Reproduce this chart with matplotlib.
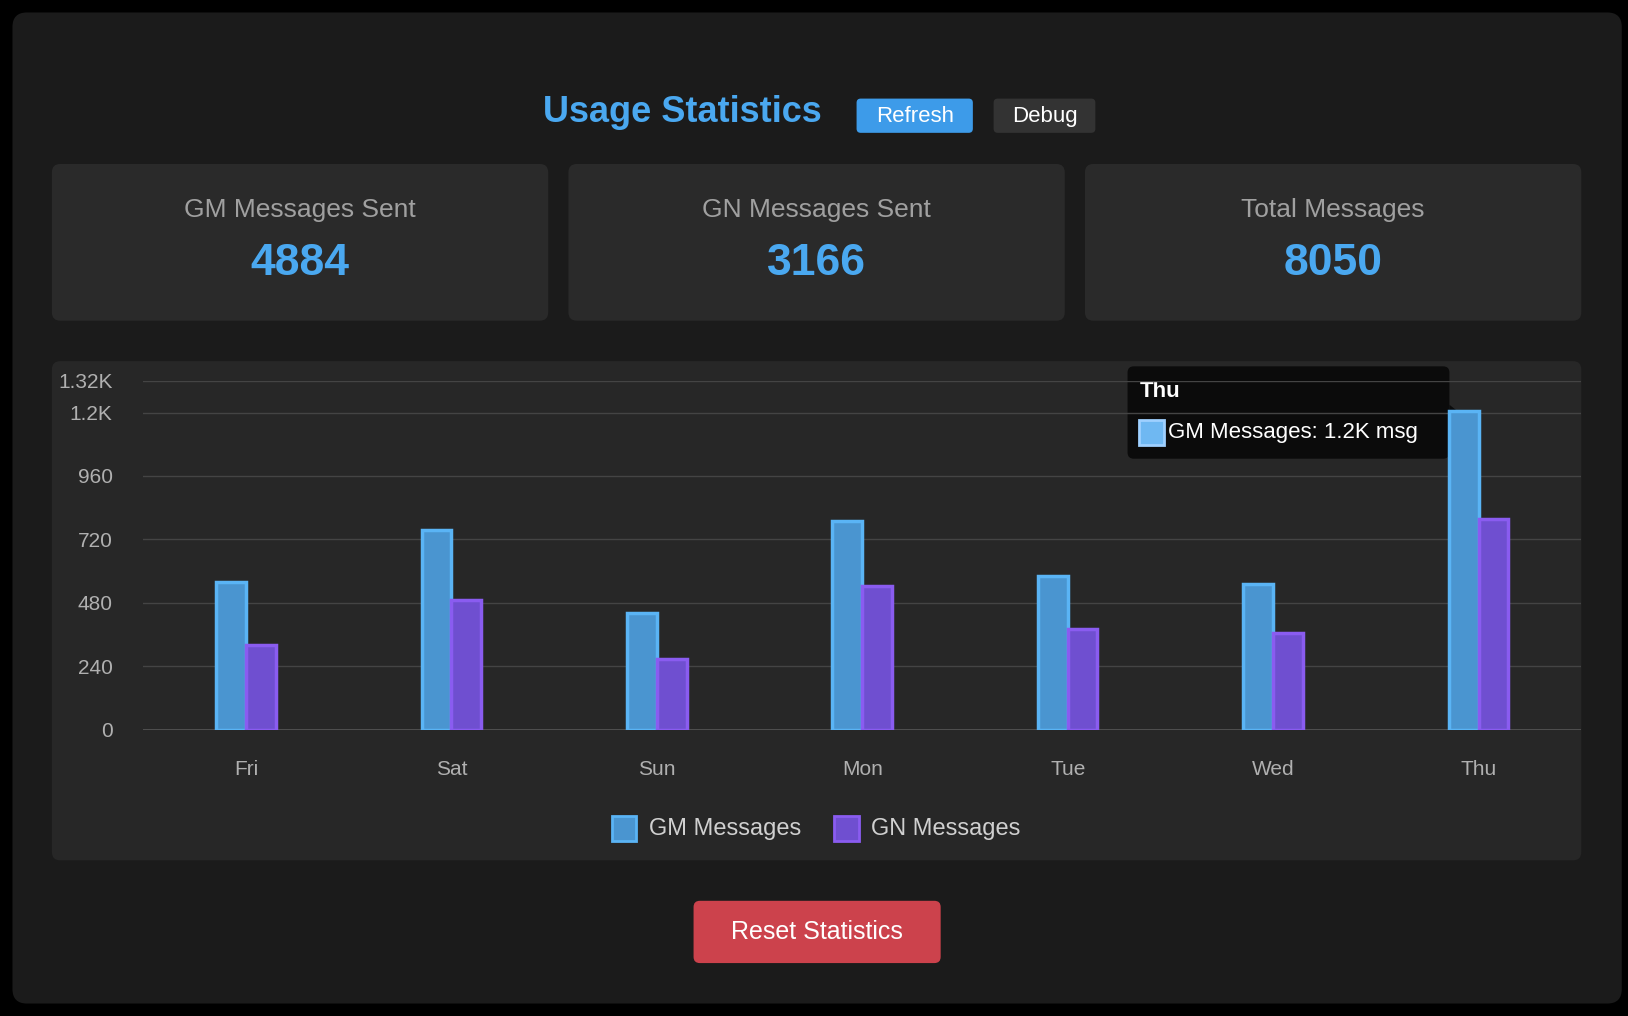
import matplotlib
matplotlib.use("Agg")
import matplotlib.pyplot as plt
from matplotlib.patches import FancyBboxPatch, Rectangle, Polygon

days = ["Fri", "Sat", "Sun", "Mon", "Tue", "Wed", "Thu"]
gm_values = [560, 755, 440, 790, 582, 550, 1207]
gn_values = [322, 491, 267, 542, 381, 365, 798]
y_ticks = [0, 240, 480, 720, 960, 1200, 1320]
y_labels = ["0", "240", "480", "720", "960", "1.2K", "1.32K"]
stat_labels = ["GM Messages Sent", "GN Messages Sent", "Total Messages"]
stat_values = [str(sum(gm_values) + 0), "3166", "8050"]
stat_values = ["4884", "3166", "8050"]

W, H = 1568, 979
plt.rcParams["font.family"] = "Liberation Sans"
fig = plt.figure(figsize=(16.28, 10.16), dpi=100, facecolor="black")
bg = fig.add_axes([0, 0, 1, 1])
bg.set_xlim(0, W); bg.set_ylim(H, 0); bg.axis("off")

def rbox(x0, y0, x1, y1, color, r=10, z=1):
    bg.add_patch(FancyBboxPatch((x0 + r, y0 + r), x1 - x0 - 2 * r, y1 - y0 - 2 * r,
                                boxstyle=f"round,pad={r}", fc=color, ec="none", zorder=z))

rbox(12, 12, 1562, 967, "#1b1b1b", r=14)
bg.text(657, 108, "Usage Statistics", color="#4aa8f0", fontsize=26, fontweight="bold",
        ha="center", va="center")
rbox(825, 95, 937, 128, "#3d9be9", r=4)
bg.text(881, 112, "Refresh", color="white", fontsize=16, ha="center", va="center")
rbox(957, 95, 1055, 128, "#333333", r=4)
bg.text(1006, 112, "Debug", color="white", fontsize=16, ha="center", va="center")

for i, (lab, val) in enumerate(zip(stat_labels, stat_values)):
    x0 = 50 + i * 497.5
    rbox(x0, 158, x0 + 478, 309, "#2a2a2a", r=8)
    cx = x0 + 239
    bg.text(cx, 202, lab, color="#a0a0a0", fontsize=19, ha="center", va="center")
    bg.text(cx, 254, val, color="#4aa8f0", fontsize=32, fontweight="bold", ha="center", va="center")

rbox(50, 348, 1523, 829, "#272727", r=8)
rbox(668, 868, 906, 928, "#cc424c", r=6)
bg.text(787, 898, "Reset Statistics", color="white", fontsize=18, ha="center", va="center")

# legend
for lx, col, ec, txt in [(589, "#4a95d0", "#5ab4f5", "GM Messages"), (803, "#6f4fd0", "#8a5cf0", "GN Messages")]:
    bg.add_patch(Rectangle((lx, 786), 24, 24, fc=col, ec=ec, lw=2, zorder=3))
    bg.text(lx + 36, 799, txt, color="#d0d0d0", fontsize=17, ha="left", va="center")

# chart
ax = fig.add_axes([138 / W, 1 - 703 / H, (1523 - 138) / W, (703 - 367) / H])
ax.set_facecolor("none")
x = list(range(len(days)))
bw = 0.145
ax.bar([i - bw / 2 for i in x], gm_values, width=bw, color="#4a95d0", edgecolor="#5ab4f5", linewidth=2.5, zorder=3)
ax.bar([i + bw / 2 for i in x], gn_values, width=bw, color="#6f4fd0", edgecolor="#8a5cf0", linewidth=2.5, zorder=3)
ax.set_xlim(-0.5, 6.5); ax.set_ylim(0, 1320)
ax.set_yticks(y_ticks); ax.set_yticklabels(y_labels)
ax.set_xticks(x); ax.set_xticklabels(days)
ax.grid(axis="y", color="#444444", lw=1, zorder=0)
ax.tick_params(colors="#b0b0b0", labelsize=15, length=0)
ax.tick_params(axis="x", pad=22)
ax.tick_params(axis="y", pad=22)
for s in ax.spines.values():
    s.set_visible(False)
ax.axhline(0, color="#555555", lw=1.2, zorder=2)

# tooltip
rbox(1086, 353, 1396, 442, "#0b0b0b", r=6, z=5)
bg.add_patch(Polygon([[1396, 390], [1406, 398], [1396, 406]], fc="#0b0b0b", ec="none", zorder=5))
bg.text(1098, 377, "Thu", color="white", fontsize=16, fontweight="bold", ha="left", va="center", zorder=6)
bg.add_patch(Rectangle((1097, 405), 24, 24, fc="#6fb8f2", ec="#9fd0ff", lw=2, zorder=6))
bg.text(1125, 417, "GM Messages: 1.2K msg", color="white", fontsize=16, ha="left", va="center", zorder=6)

fig.savefig("out.png", dpi=100, facecolor="black")
